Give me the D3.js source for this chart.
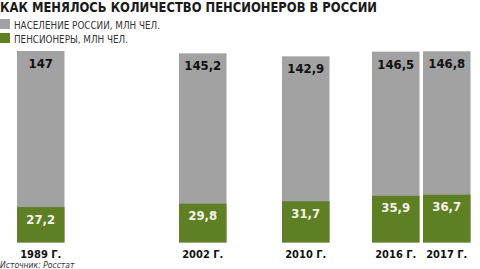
<!DOCTYPE html>
<html>
<head>
<meta charset="utf-8">
<script src="https://cdn.jsdelivr.net/npm/d3@7"></script>
<style>
  html, body { margin: 0; padding: 0; background: #fff; }
  svg { display: block; }
</style>
</head>
<body>
<svg id="chart" width="480" height="269"></svg>
<script>
// Population of Russia and number of pensioners, million people
const years = [1989, 2002, 2010, 2016, 2017];
const yearLabels = ["1989 Г.", "2002 Г.", "2010 Г.", "2016 Г.", "2017 Г."];
const population = [147, 145.2, 142.9, 146.5, 146.8];
const pensioners = [27.2, 29.8, 31.7, 35.9, 36.7];
const legendLabels = ["НАСЕЛЕНИЕ РОССИИ, МЛН ЧЕЛ.", "ПЕНСИОНЕРЫ, МЛН ЧЕЛ."];

const GRAY = "#a2a2a2";
const GREEN = "#5f7f24";
const FONT = "'DejaVu Sans Condensed', 'DejaVu Sans', sans-serif";

const svg = d3.select("#chart");
const fmt = v => String(v).replace(".", ",");

// bar left edges follow a piecewise timeline
const x = d3.scaleLinear()
  .domain(years)
  .range([17, 179, 282, 372, 423]);
const barW = 47.5;

const y = d3.scaleLinear().domain([0, 147]).range([242.5, 51]);

// title
svg.append("text")
  .attr("x", 0).attr("y", 12)
  .attr("font-family", FONT).attr("font-weight", "bold")
  .attr("font-size", 13.5).attr("fill", "#1a1a1a")
  .attr("textLength", 377).attr("lengthAdjust", "spacingAndGlyphs")
  .text("КАК МЕНЯЛОСЬ КОЛИЧЕСТВО ПЕНСИОНЕРОВ В РОССИИ");

// legend
const legend = svg.selectAll("g.legend")
  .data(legendLabels)
  .enter().append("g")
  .attr("class", "legend")
  .attr("transform", (d, i) => `translate(0, ${19 + i * 14})`);
legend.append("rect")
  .attr("width", 10).attr("height", 10)
  .attr("fill", (d, i) => i === 0 ? GRAY : GREEN);
legend.append("text")
  .attr("x", 14).attr("y", 9.5)
  .attr("font-family", FONT).attr("font-size", 10.5).attr("fill", "#333")
  .attr("textLength", (d, i) => i === 0 ? 146 : 114)
  .attr("lengthAdjust", "spacingAndGlyphs")
  .text(d => d);

// population bars (gray, full height)
svg.selectAll("rect.pop")
  .data(years)
  .enter().append("rect")
  .attr("class", "pop")
  .attr("x", d => x(d)).attr("width", barW)
  .attr("y", (d, i) => y(population[i]))
  .attr("height", (d, i) => y(0) - y(population[i]))
  .attr("fill", GRAY);

// pensioner bars (green, drawn over the gray)
svg.selectAll("rect.pen")
  .data(years)
  .enter().append("rect")
  .attr("class", "pen")
  .attr("x", d => x(d)).attr("width", barW)
  .attr("y", (d, i) => y(pensioners[i]))
  .attr("height", (d, i) => y(0) - y(pensioners[i]))
  .attr("fill", GREEN);

// value labels
svg.selectAll("text.popv")
  .data(years)
  .enter().append("text")
  .attr("class", "popv")
  .attr("x", d => x(d) + barW / 2)
  .attr("y", (d, i) => y(population[i]) + 17)
  .attr("text-anchor", "middle")
  .attr("font-family", FONT).attr("font-weight", "bold")
  .attr("font-size", 13).attr("fill", "#111")
  .text((d, i) => fmt(population[i]));

svg.selectAll("text.penv")
  .data(years)
  .enter().append("text")
  .attr("class", "penv")
  .attr("x", d => x(d) + barW / 2)
  .attr("y", (d, i) => y(pensioners[i]) + 16.5)
  .attr("text-anchor", "middle")
  .attr("font-family", FONT).attr("font-weight", "bold")
  .attr("font-size", 13).attr("fill", "#f4f4e8")
  .text((d, i) => fmt(pensioners[i]));

// year labels
svg.selectAll("text.year")
  .data(years)
  .enter().append("text")
  .attr("class", "year")
  .attr("x", d => x(d) + barW / 2)
  .attr("y", 258)
  .attr("text-anchor", "middle")
  .attr("font-family", FONT).attr("font-weight", "bold")
  .attr("font-size", 11).attr("fill", "#111")
  .text((d, i) => yearLabels[i]);

// source
svg.append("text")
  .attr("x", 0).attr("y", 268)
  .attr("font-family", FONT).attr("font-style", "italic")
  .attr("font-size", 8.5).attr("fill", "#333")
  .text("Источник: Росстат");
</script>
</body>
</html>
